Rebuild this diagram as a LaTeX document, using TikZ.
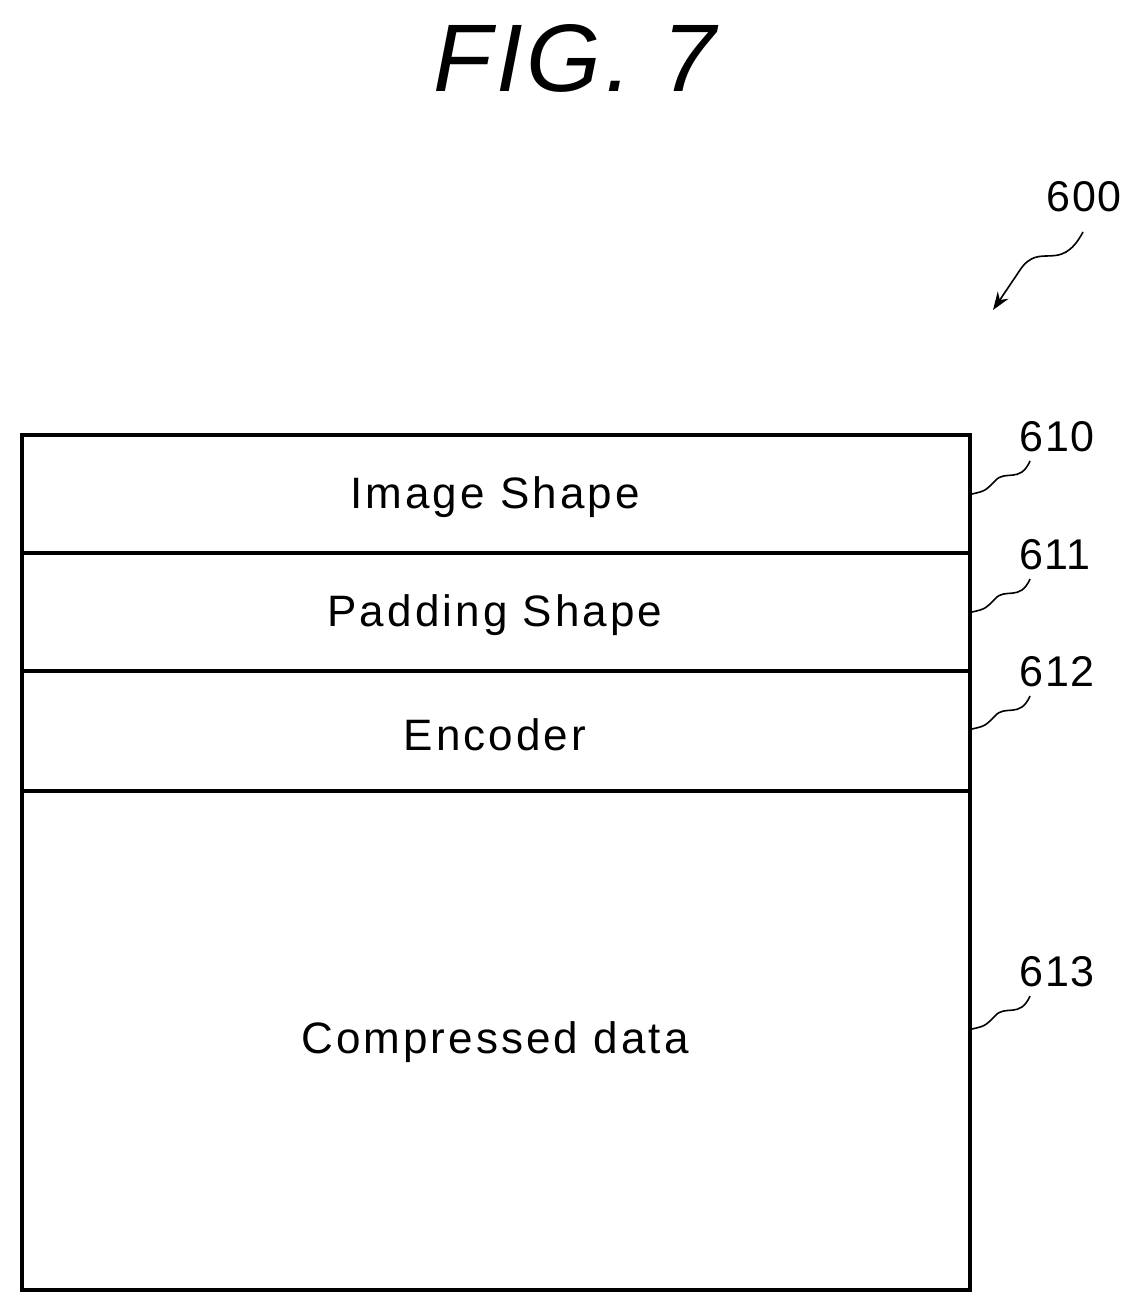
\documentclass[tikz,border=0pt]{standalone}
\usepackage{fontspec}
\setmainfont{Liberation Sans}
\usetikzlibrary{arrows.meta}
\begin{document}
\begin{tikzpicture}[x=1pt,y=-1pt,
  lbl/.style={font=\fontsize{43}{46}\selectfont\addfontfeature{LetterSpace=3}},
  fld/.style={font=\fontsize{44}{48}\selectfont\addfontfeature{LetterSpace=7}},
  lead/.style={line width=1.6pt}]
\useasboundingbox (0,0) rectangle (1145,1311);
\node[font=\fontsize{96}{100}\selectfont\itshape\addfontfeature{LetterSpace=4}] (fig) at (575,58) {FIG. 7};
\node[lbl] (n600) at (1084,197) {600};
\coordinate (a0) at (1083,232);
\coordinate (a1) at (993,310);
\draw[lead,-{Stealth[length=18pt,width=13pt]}] (a0) .. controls (1060,275) and (1040,240) .. (1020,270) .. controls (1010,285) .. (a1);
\draw[line width=3.5pt] (22,435) rectangle (970,1290);
\draw[line width=3.5pt] (22,553) -- (970,553);
\draw[line width=3.5pt] (22,671) -- (970,671);
\draw[line width=3.5pt] (22,791) -- (970,791);
\node[fld] (f0) at (495,497) {Image Shape};
\node[fld] (f1) at (495,615) {Padding Shape};
\node[fld] (f2) at (495,735) {Encoder};
\node[fld] (f3) at (495,1042) {Compressed data};
\node[lbl] (n610) at (1057,437) {610};
\node[lbl] (n611) at (1055,555) {611};
\node[lbl] (n612) at (1057,672) {612};
\node[lbl] (n613) at (1057,972) {613};
\foreach \y in {437,555,672,972}{
  \draw[lead] (1030,\y+24) .. controls (1020,\y+47) and (1005,\y+32) .. (995,\y+44) .. controls (985,\y+54) .. (972,\y+57);
}
\end{tikzpicture}
\end{document}
